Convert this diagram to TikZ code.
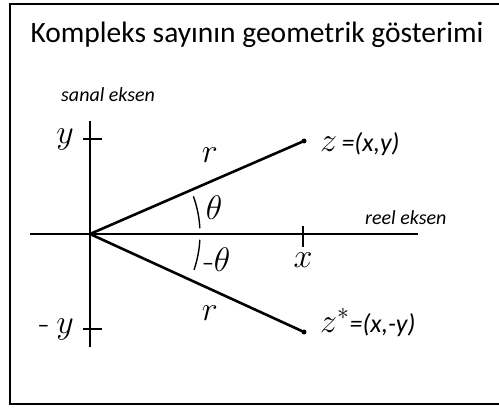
\RequirePackage{fix-cm}
\documentclass[tikz,border=0pt]{standalone}
\usepackage{fontspec}
\newfontfamily\labelfont{Carlito}
\usetikzlibrary{positioning}

\begin{document}
\begin{tikzpicture}[
    x=1pt, y=1pt,
    node distance=10pt,
    frame/.style={line width=1.6pt, draw=black},
    axis/.style={line width=1.6pt, draw=black},
    radiusline/.style={line width=2.6pt, draw=black},
    tickmark/.style={line width=1.6pt, draw=black},
    anglearc/.style={line width=1.4pt, draw=black},
    mathlabel/.style={font=\fontsize{34}{38}\selectfont, inner sep=0pt},
    axislabel/.style={font=\labelfont\itshape\fontsize{20}{24}\selectfont, inner sep=0pt},
    pointlabel/.style={font=\labelfont\itshape\fontsize{26}{30}\selectfont, inner sep=0pt},
    dot/.style={circle, fill=black, inner sep=0pt, minimum size=5pt}
]
    \useasboundingbox (0,0) rectangle (499,408);
    % frame, open to the right
    \draw[frame] (499,404) -- (10,404) -- (10,4) -- (499,4);
    \node[font=\labelfont\fontsize{29.5}{33}\selectfont, inner sep=0pt, anchor=base] (title) at (257,365) {Kompleks sayının geometrik gösterimi};

    % axes
    \coordinate (O) at (90,174);
    \coordinate (xleft) at (30,174);
    \coordinate (xright) at (418,174);
    \coordinate (ytop) at (90,287);
    \coordinate (ybottom) at (90,61);
    \draw[axis] (xleft) -- (xright);
    \draw[axis] (ybottom) -- (ytop);
    \node[axislabel, anchor=base west] (imag) at (61,306) {sanal eksen};
    \node[axislabel, anchor=base west] (real) at (365,183) {reel eksen};

    % ticks
    \coordinate (ty) at (90,269);
    \coordinate (tmy) at (90,79);
    \coordinate (tx) at (303,174);
    \draw[tickmark] ([xshift=-7pt]ty) -- ([xshift=12pt]ty);
    \draw[tickmark] ([xshift=-7pt]tmy) -- ([xshift=12pt]tmy);
    \draw[tickmark] ([yshift=8pt]tx) -- ([yshift=-13pt]tx);
    \node[mathlabel, left=16pt of ty] (ylab) {$y$};
    \node[mathlabel, left=16pt of tmy] (mylab) {-\hspace{7pt}$y$};
    \node[mathlabel, below=19pt of tx] (xlab) {$x$};

    % the two points
    \node[dot] (z) at (304,267) {};
    \node[dot] (zs) at (304,76) {};
    \draw[radiusline] (O) -- node[mathlabel, pos=0.56, above=18pt] (rup) {$r$} (z.center);
    \draw[radiusline] (O) -- node[mathlabel, pos=0.56, below=16pt] (rdown) {$r$} (zs.center);
    \node[pointlabel, anchor=base west] (zlab) at ([xshift=16pt, yshift=-11pt]z) {{\fontsize{34}{38}\selectfont$z$}\,=(x,y)};
    \node[pointlabel, anchor=base west] (zslab) at ([xshift=16pt]zs) {{\fontsize{34}{38}\selectfont$z^*$}=(x,-y)};

    % angles
    \draw[anglearc] (O) ++(3:110) arc[start angle=3, end angle=20, radius=110];
    \draw[anglearc] (O) ++(-3:110) arc[start angle=-3, end angle=-19, radius=110];
    \node[mathlabel] (theta) at (214,200) {$\theta$};
    \node[mathlabel] (mtheta) at (217,148) {-$\theta$};
\end{tikzpicture}
\end{document}
